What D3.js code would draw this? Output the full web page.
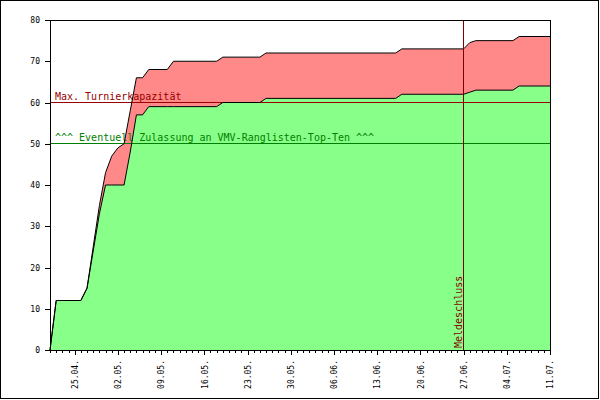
<!DOCTYPE html>
<html>
<head>
<meta charset="utf-8">
<script src="https://cdn.jsdelivr.net/npm/d3@7"></script>
<style>
  html, body { margin: 0; padding: 0; background: #fff; }
  svg { display: block; }
</style>
</head>
<body>
<script>
// ---- data ----
const dates = ["2010-04-21","2010-04-22","2010-04-26","2010-04-27","2010-04-28","2010-04-29","2010-04-30",
  "2010-05-01","2010-05-02","2010-05-03","2010-05-04","2010-05-05","2010-05-06","2010-05-07","2010-05-10",
  "2010-05-11","2010-05-18","2010-05-19","2010-05-25","2010-05-26","2010-06-16","2010-06-17","2010-06-27",
  "2010-06-28","2010-06-29","2010-07-05","2010-07-06","2010-07-11"];
const admitted = [0,12,12,15,24,33,40,40,40,40,48,57,57,59,59,59,59,60,60,61,61,62,62,62.5,63,63,64,64];
const totalRegs = [0,12,12,15,25,35,43,47,49,50,58,66,66,68,68,70,70,71,71,72,72,73,73,74.5,75,75,76,76];
const tickLabels = ["25.04.","02.05.","09.05.","16.05.","23.05.","30.05.","06.06.","13.06.","20.06.","27.06.","04.07.","11.07."];
const yTicks = [0,10,20,30,40,50,60,70,80];
const maxCapacity = 60;
const topTenLimit = 50;
const deadline = "2010-06-27";
const labelYear = "2010";

// ---- setup ----
const W = 600, H = 400;
const parse = d3.utcParse("%Y-%m-%d");
const parseLabel = d3.utcParse("%d.%m.%Y");
const pts = dates.map((d, i) => ({ date: parse(d), a: admitted[i], t: totalRegs[i] }));
const majorDates = tickLabels.map(l => parseLabel(l + labelYear));

const svg = d3.select("body").append("svg").attr("width", W).attr("height", H);
svg.append("rect").attr("x", 0.5).attr("y", 0.5).attr("width", 598).attr("height", 398)
  .attr("fill", "#fff").attr("stroke", "#000").attr("stroke-width", 1);

const x = d3.scaleUtc().domain(d3.extent(pts, d => d.date)).range([50, 550]);
const y = d3.scaleLinear().domain([0, 80]).range([350, 20]);

// areas
svg.append("path").datum(pts)
  .attr("fill", "#ff8888")
  .attr("d", d3.area().x(d => x(d.date)).y0(y(0)).y1(d => y(d.t)));
svg.append("path").datum(pts)
  .attr("fill", "#88ff88")
  .attr("d", d3.area().x(d => x(d.date)).y0(y(0)).y1(d => y(d.a)));

// reference lines + texts
const redC = "#990000", greenC = "#008000", deadC = "#800000";
const yMax = Math.floor(y(maxCapacity)) + 0.5;
const yTop = Math.floor(y(topTenLimit)) + 0.5;
svg.append("line").attr("x1", 50).attr("x2", 550).attr("y1", yMax).attr("y2", yMax)
  .attr("stroke", redC).attr("stroke-width", 1);
svg.append("line").attr("x1", 50).attr("x2", 550).attr("y1", yTop).attr("y2", yTop)
  .attr("stroke", greenC).attr("stroke-width", 1);
svg.append("text").attr("x", 55).attr("y", yMax - 2.5)
  .attr("fill", redC).attr("font-family", "DejaVu Sans Mono").attr("font-size", 10)
  .text("Max. Turnierkapazität");
svg.append("text").attr("x", 55).attr("y", yTop - 2.5)
  .attr("fill", greenC).attr("font-family", "DejaVu Sans Mono").attr("font-size", 10)
  .text("^^^ Eventuell Zulassung an VMV-Ranglisten-Top-Ten ^^^");

// outlines
svg.append("path").datum(pts).attr("fill", "none").attr("stroke", "#000").attr("stroke-width", 1)
  .attr("d", d3.line().x(d => x(d.date)).y(d => y(d.t)));
svg.append("path").datum(pts).attr("fill", "none").attr("stroke", "#000").attr("stroke-width", 1)
  .attr("d", d3.line().x(d => x(d.date)).y(d => y(d.a)));

// deadline
const dx = Math.floor(x(parse(deadline))) + 0.5;
svg.append("line").attr("x1", dx).attr("x2", dx).attr("y1", 20).attr("y2", 350)
  .attr("stroke", deadC).attr("stroke-width", 1);
svg.append("text").attr("transform", `translate(${dx - 2},348) rotate(-90)`)
  .attr("fill", deadC).attr("font-family", "DejaVu Sans Mono").attr("font-size", 10)
  .text("Meldeschluss");

// frame top/right
svg.append("path").attr("d", "M50,20.5H550.5V350").attr("fill", "none").attr("stroke", "#000")
  .attr("shape-rendering", "crispEdges");

// axes
const yAxis = svg.append("g").attr("transform", "translate(50,0)")
  .call(d3.axisLeft(y).tickValues(yTicks).tickSize(5).tickSizeOuter(0).tickPadding(5).tickFormat(d3.format("d")));
yAxis.selectAll("text").attr("font-family", "DejaVu Sans Mono").attr("font-size", 8).attr("fill", "#000");

const xMinor = svg.append("g").attr("transform", "translate(0,350)")
  .call(d3.axisBottom(x).ticks(d3.utcDay.every(1)).tickSize(3).tickSizeOuter(0).tickFormat(""));
const xMajor = svg.append("g").attr("transform", "translate(0,350)")
  .call(d3.axisBottom(x).tickValues(majorDates).tickSize(5).tickSizeOuter(0).tickFormat((d, i) => tickLabels[i]));
xMajor.select(".domain").remove();
xMajor.selectAll("text")
  .attr("font-family", "DejaVu Sans Mono").attr("font-size", 8).attr("fill", "#000")
  .attr("transform", "rotate(-90)")
  .attr("text-anchor", "end")
  .attr("x", -10).attr("y", 0).attr("dy", "0.35em");
svg.selectAll(".domain, .tick line").attr("shape-rendering", "crispEdges");
</script>
</body>
</html>
